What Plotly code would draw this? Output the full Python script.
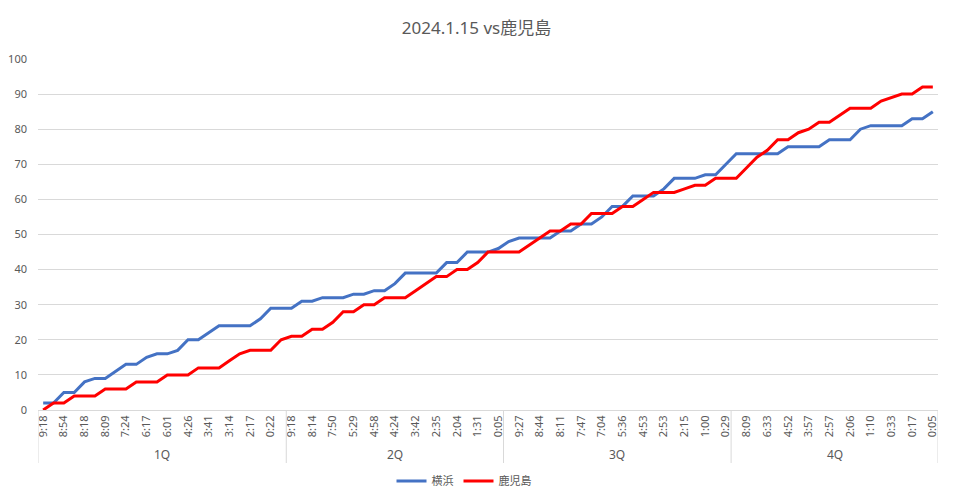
import plotly.graph_objects as go

# ---- data ----
quarters = ["1Q", "2Q", "3Q", "4Q"]
quarter_sizes = [24, 21, 22, 20]  # number of scoring events per quarter

# tick labels (every other event is labelled on the axis)
time_labels_1q = ["9:18", "8:54", "8:18", "8:09", "7:24", "6:17", "6:01", "4:26", "3:41", "3:14", "2:17", "0:22"]
time_labels_2q = ["9:18", "8:14", "7:50", "5:29", "4:58", "4:24", "3:42", "2:35", "2:04", "1:31", "0:05"]
time_labels_3q = ["9:27", "8:44", "8:11", "7:47", "7:04", "5:36", "4:53", "2:53", "2:15", "1:00", "0:29"]
time_labels_4q = ["8:09", "6:33", "4:52", "3:57", "2:57", "2:06", "1:10", "0:33", "0:17", "0:05"]

yokohama = [2, 2, 5, 5, 8, 9, 9, 11, 13, 13, 15, 16, 16, 17, 20, 20, 22, 24, 24, 24, 24, 26, 29, 29,
            29, 31, 31, 32, 32, 32, 33, 33, 34, 34, 36, 39, 39, 39, 39, 42, 42, 45, 45, 45, 46,
            48, 49, 49, 49, 49, 51, 51, 53, 53, 55, 58, 58, 61, 61, 61, 63, 66, 66, 66, 67, 67, 70,
            73, 73, 73, 73, 73, 75, 75, 75, 75, 77, 77, 77, 80, 81, 81, 81, 81, 83, 83, 85]
kagoshima = [0, 2, 2, 4, 4, 4, 6, 6, 6, 8, 8, 8, 10, 10, 10, 12, 12, 12, 14, 16, 17, 17, 17, 20,
             21, 21, 23, 23, 25, 28, 28, 30, 30, 32, 32, 32, 34, 36, 38, 38, 40, 40, 42, 45, 45,
             45, 45, 47, 49, 51, 51, 53, 53, 56, 56, 56, 58, 58, 60, 62, 62, 62, 63, 64, 64, 66, 66,
             66, 69, 72, 74, 77, 77, 79, 80, 82, 82, 84, 86, 86, 86, 88, 89, 90, 90, 92, 92]

title_text = "2024.1.15 vs鹿児島"
series_names = ["横浜", "鹿児島"]
series_colors = ["#4472C4", "#FF0000"]

# ---- build ----
n = len(yokohama)
x = list(range(n))
all_labels = time_labels_1q + time_labels_2q + time_labels_3q + time_labels_4q
tickvals = []
starts = []
s = 0
label_lists = [time_labels_1q, time_labels_2q, time_labels_3q, time_labels_4q]
for size, labs in zip(quarter_sizes, label_lists):
    starts.append(s)
    first = s if s % 2 == 0 else s + 1
    tickvals += list(range(first, s + size, 2))[:len(labs)]
    s += size

FONT = "Noto Sans, Noto Sans CJK JP, sans-serif"
GRAY = "#595959"

fig = go.Figure()
for name, vals, col in zip(series_names, [yokohama, kagoshima], series_colors):
    fig.add_trace(go.Scatter(x=x, y=vals, mode="lines", name=name,
                             line=dict(color=col, width=3)))

# group dividers and quarter labels
shapes = []
annotations = []
bounds = [st - 0.5 for st in starts] + [n - 0.5]
for b in bounds:
    shapes.append(dict(type="line", xref="x", yref="paper", x0=b, x1=b, y0=0, y1=-0.151,
                       line=dict(color="#d9d9d9", width=1)))
for q, st, size in zip(quarters, starts, quarter_sizes):
    annotations.append(dict(text=q, xref="x", yref="paper", x=st + (size - 1) / 2, y=-0.128,
                            showarrow=False, yanchor="middle", xanchor="center",
                            font=dict(size=12, color=GRAY, family=FONT)))

fig.update_layout(
    width=953, height=501,
    margin=dict(l=38, r=15, t=59, b=91, autoexpand=False),
    paper_bgcolor="white", plot_bgcolor="white",
    title=dict(text=title_text, x=0.5, xanchor="center", y=1 - 28 / 501, yanchor="middle",
               font=dict(size=17, color=GRAY, family=FONT)),
    font=dict(family=FONT, color=GRAY),
    showlegend=True,
    legend=dict(orientation="h", xref="container", yref="container", x=464 / 953, xanchor="center",
                y=1 - 481 / 501, yanchor="middle",
                font=dict(size=11, color=GRAY, family=FONT), itemwidth=30),
    shapes=shapes, annotations=annotations,
    xaxis=dict(range=[-0.5, n - 0.5], tickvals=tickvals, ticktext=all_labels, tickangle=-90,
               automargin=False,
               tickfont=dict(size=11, color=GRAY, family=FONT), showgrid=False, zeroline=False,
               showline=True, linecolor="#d9d9d9", linewidth=1, ticks="", fixedrange=True),
    yaxis=dict(range=[0, 100], dtick=10, tick0=0, showgrid=True, gridcolor="#d9d9d9", gridwidth=1,
               automargin=False,
               zeroline=False, showline=False, ticks="", ticklabelstandoff=10,
               tickfont=dict(size=11, color=GRAY, family=FONT)),
)

fig.write_html("out.html")
